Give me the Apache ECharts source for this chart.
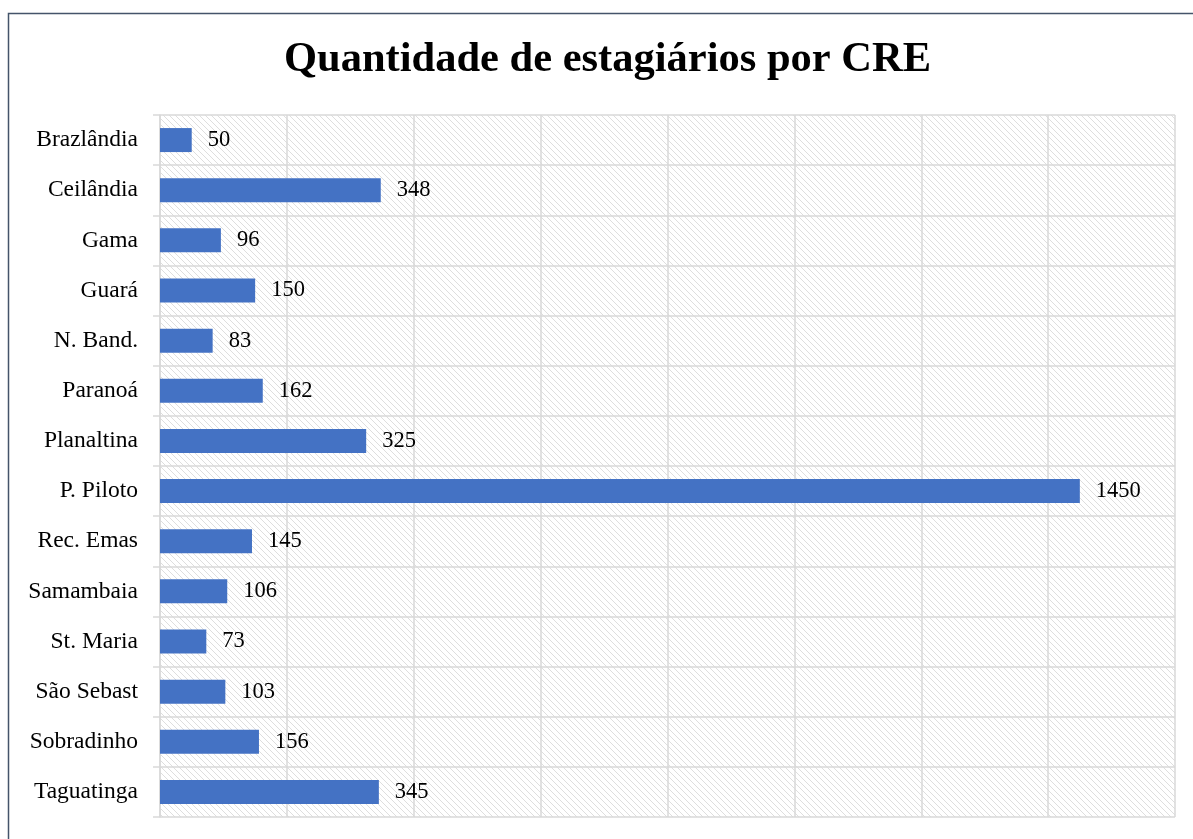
<!DOCTYPE html>
<html>
<head>
<meta charset="utf-8">
<script src="https://cdn.jsdelivr.net/npm/echarts@6/dist/echarts.min.js"></script>
<style>
  html, body { margin: 0; padding: 0; background: #fff; }
  #main { width: 1193px; height: 839px; }
</style>
</head>
<body>
<div id="main"></div>
<script>
// dados
var categorias = ['Brazlândia', 'Ceilândia', 'Gama', 'Guará', 'N. Band.', 'Paranoá', 'Planaltina',
  'P. Piloto', 'Rec. Emas', 'Samambaia', 'St. Maria', 'São Sebast', 'Sobradinho', 'Taguatinga'];
var estagiarios = [50, 348, 96, 150, 83, 162, 325, 1450, 145, 106, 73, 103, 156, 345];

// fundo hachurado (diagonal descendente)
function hachura() {
  var c = document.createElement('canvas');
  c.width = 6; c.height = 6;
  var ctx = c.getContext('2d');
  ctx.fillStyle = '#ffffff';
  ctx.fillRect(0, 0, 6, 6);
  ctx.strokeStyle = '#dedede';
  ctx.lineWidth = 1;
  ctx.beginPath();
  ctx.moveTo(-1, -1); ctx.lineTo(7, 7);
  ctx.moveTo(-1, 5); ctx.lineTo(1, 7);
  ctx.moveTo(5, -1); ctx.lineTo(7, 1);
  ctx.stroke();
  return c;
}

var fonte = '"Liberation Serif", "Times New Roman", serif';
var cinza = '#d9d9d9';

var myChart = echarts.init(document.getElementById('main'));
var option = {
  animation: false,
  title: {
    text: 'Quantidade de estagiários por CRE',
    left: 279,
    top: 34,
    textStyle: { fontFamily: fonte, fontSize: 42.5, fontWeight: 'bold', color: '#000' }
  },
  graphic: [{
    type: 'rect',
    shape: { x: 8.5, y: 13.5, width: 1400, height: 1000 },
    style: { fill: 'none', stroke: '#44546A', lineWidth: 1.5 },
    silent: true,
    z: -10
  }],
  grid: {
    left: 160,
    right: 18,
    top: 115,
    bottom: 22,
    show: true,
    borderWidth: 0,
    backgroundColor: { image: hachura(), repeat: 'repeat' }
  },
  xAxis: {
    type: 'value',
    min: 0,
    max: 1600,
    interval: 200,
    axisLabel: { show: false },
    axisLine: { show: false },
    axisTick: { show: false },
    splitLine: { show: true, lineStyle: { color: cinza, width: 1.5 } }
  },
  yAxis: {
    type: 'category',
    inverse: true,
    data: categorias,
    axisLine: { show: true, lineStyle: { color: cinza, width: 1.5 } },
    axisTick: { show: true, length: 7, lineStyle: { color: cinza, width: 1.5 } },
    splitLine: { show: true, lineStyle: { color: cinza, width: 1.5 } },
    axisLabel: { margin: 22, fontFamily: fonte, fontSize: 23.5, color: '#000', padding: [3, 0, 0, 0] }
  },
  series: [{
    name: 'Estagiários',
    type: 'bar',
    data: estagiarios,
    barWidth: 24,
    itemStyle: { color: '#4472C4' },
    label: {
      show: true,
      position: 'right',
      distance: 16,
      fontFamily: fonte,
      fontSize: 22.5,
      color: '#000',
      padding: [3, 0, 0, 0]
    }
  }]
};
myChart.setOption(option);
</script>
</body>
</html>
